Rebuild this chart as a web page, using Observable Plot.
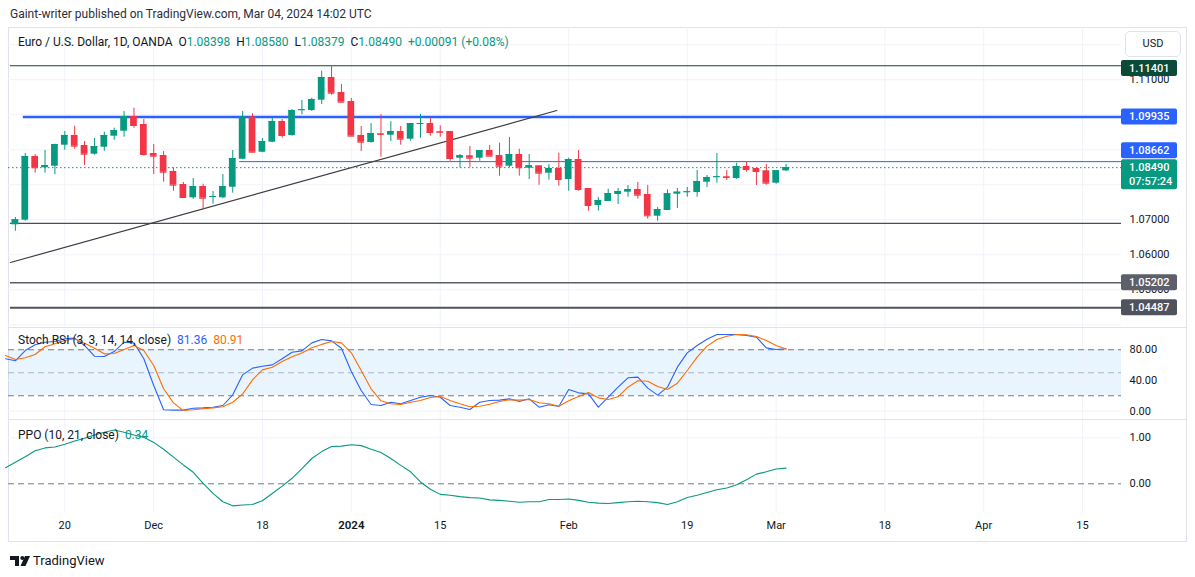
<!DOCTYPE html>
<html><head><meta charset="utf-8">
<script src="https://cdn.jsdelivr.net/npm/d3@7"></script>
<script src="https://cdn.jsdelivr.net/npm/@observablehq/plot@0.6"></script>
<style>
body{margin:0;background:#fff;font-family:Roboto,"Liberation Sans",sans-serif;color:#131722;}
#root{position:relative;width:1195px;height:577px;overflow:hidden;background:#fff;}
.abs{position:absolute;white-space:nowrap;}
#frame{left:8px;top:27px;width:1179px;height:515px;box-sizing:border-box;border:1px solid #e0e3eb;}
.sep{left:8px;width:1178px;height:1px;background:#e0e3eb;}
.hdr{font-size:12px;line-height:16px;height:16px;}
.g{color:#089981;}
</style></head><body><div id="root"></div>
<script>
// ---------- DATA ----------
// candles, index 0 = 13 Nov 2023 ... 78 = 04 Mar 2024 (trading days)
const open  = [1.06857,1.06989,1.08809,1.08486,1.08531,1.09131,1.09409,1.09123,1.08874,1.09074,
               1.09389,1.09531,1.09951,1.09723,1.08894,1.08837,1.08380,1.08009,1.07629,1.07951,
               1.07646,1.07629,1.07931,1.08731,1.09931,1.08931,1.09217,1.09809,1.09409,1.10123,
               1.10123,1.10417,1.11066,1.10637,1.10380,1.09409,1.09209,1.09460,1.09417,1.09523,
               1.09303,1.09730,1.09751,1.09520,1.09523,1.08760,1.08829,1.08760,1.08980,1.08837,
               1.08531,1.08866,1.08474,1.08543,1.08331,1.08466,1.08151,1.08723,1.07894,1.07409,
               1.07523,1.07723,1.07789,1.07866,1.07723,1.07103,1.07266,1.07731,1.07780,1.07780,
               1.08074,1.08210,1.08230,1.08180,1.08523,1.08466,1.08400,1.08046,1.08398];
const high  = [1.07066,1.08894,1.08866,1.08980,1.09160,1.09523,1.09674,1.09237,1.09323,1.09503,
               1.09617,1.10094,1.10189,1.09866,1.09151,1.08950,1.08486,1.08066,1.08180,1.08017,
               1.07809,1.08294,1.08980,1.10094,1.10029,1.09323,1.09903,1.09866,1.10151,1.10409,
               1.10474,1.11246,1.11401,1.10866,1.10466,1.09666,1.09751,1.10000,1.09800,1.09666,
               1.09751,1.10009,1.09903,1.09686,1.09523,1.08866,1.09094,1.08980,1.09123,1.09189,
               1.09351,1.09017,1.08866,1.08543,1.08580,1.08903,1.08760,1.08980,1.07894,1.07637,
               1.07874,1.07894,1.07980,1.08066,1.07980,1.07351,1.07857,1.07894,1.07923,1.08409,
               1.08266,1.08894,1.08409,1.08617,1.08646,1.08480,1.08580,1.08400,1.08580];
const low   = [1.06674,1.06960,1.08331,1.08331,1.08286,1.08989,1.09017,1.08551,1.08846,1.08960,
               1.09274,1.09360,1.09617,1.08817,1.08294,1.08074,1.07817,1.07617,1.07580,1.07286,
               1.07446,1.07600,1.07760,1.08720,1.08903,1.08914,1.09200,1.09331,1.09389,1.10000,
               1.10094,1.10294,1.10560,1.10360,1.09389,1.08950,1.09190,1.08789,1.09237,1.09131,
               1.09246,1.09331,1.09389,1.09360,1.08674,1.08486,1.08486,1.08674,1.08817,1.08246,
               1.08486,1.08246,1.08151,1.07989,1.08131,1.07960,1.07817,1.07817,1.07246,1.07246,
               1.07523,1.07437,1.07646,1.07589,1.07017,1.06960,1.07266,1.07323,1.07646,1.07646,
               1.07923,1.08046,1.08123,1.08151,1.08360,1.07980,1.07989,1.08017,1.08379];
const close = [1.07000,1.08809,1.08486,1.08551,1.09151,1.09409,1.09103,1.08874,1.09094,1.09409,
               1.09551,1.09951,1.09694,1.08866,1.08817,1.08360,1.07989,1.07637,1.07951,1.07617,
               1.07666,1.07951,1.08751,1.09931,1.08931,1.09237,1.09809,1.09409,1.10123,1.10143,
               1.10437,1.11066,1.10617,1.10360,1.09389,1.09217,1.09466,1.09440,1.09523,1.09303,
               1.09751,1.09750,1.09494,1.09500,1.08751,1.08829,1.08760,1.08980,1.08817,1.08531,
               1.08866,1.08486,1.08543,1.08331,1.08466,1.08151,1.08723,1.07866,1.07409,1.07551,
               1.07751,1.07809,1.07866,1.07703,1.07114,1.07294,1.07743,1.07789,1.07800,1.08094,
               1.08209,1.08230,1.08210,1.08523,1.08437,1.08380,1.08046,1.08400,1.08490];
const lastChange = "+0.00091";
const lastChangePct = "+0.08%";

// indicators, index -1 ... 78
const stochK = [68.2,65.6,79.0,86.5,89.9,90.8,94.3,95.2,85.6,71.6,71.2,77.7,89.9,89.0,68.2,33.4,1.7,1.3,1.3,3.8,
                4.2,5.1,7.3,21.2,47.3,56.0,58.6,60.3,68.2,76.8,78.6,89.0,93.4,91.6,82.0,51.6,26.9,8.6,7.3,11.6,
                9.5,13.8,18.1,20.3,18.1,7.3,5.1,2.1,11.6,13.8,14.3,16.0,12.5,16.0,5.1,8.2,6.0,28.2,23.8,22.5,
                5.1,18.1,31.2,43.4,44.3,29.9,20.8,31.2,57.3,76.0,85.6,93.8,100,100,99.9,98.6,96.4,82.5,80.3,81.36];
const stochD = [72.5,67.3,69.5,73.8,83.9,87.8,92.1,94.3,88.6,82.0,74.7,75.1,80.3,85.6,79.0,59.5,29.1,10.8,0.7,1.7,
                3.0,4.2,5.6,11.6,22.3,40.8,53.8,57.2,64.8,70.9,75.9,82.5,87.0,90.8,89.0,76.0,52.9,29.1,13.4,9.5,
                8.6,11.6,13.8,17.7,19.0,13.8,9.5,5.6,6.4,9.0,12.5,14.7,14.3,15.1,10.8,9.5,6.4,13.4,19.0,24.3,
                17.3,15.1,18.6,31.2,39.5,39.0,32.1,28.2,36.4,53.0,70.3,84.7,93.4,97.7,99.9,99.5,97.3,92.1,85.6,80.91];
const ppo    = [0.35,0.47,0.59,0.72,0.78,0.80,0.86,0.93,0.99,1.06,1.12,1.17,1.12,1.06,1.01,0.90,0.75,0.58,0.41,0.25,
                0.01,-0.21,-0.39,-0.48,-0.46,-0.45,-0.37,-0.21,-0.05,0.12,0.33,0.55,0.70,0.81,0.82,0.85,0.83,0.75,0.68,0.55,
                0.40,0.26,0.04,-0.12,-0.23,-0.25,-0.28,-0.30,-0.31,-0.35,-0.36,-0.38,-0.40,-0.39,-0.39,-0.34,-0.34,-0.33,-0.36,-0.40,
                -0.42,-0.43,-0.41,-0.39,-0.38,-0.39,-0.41,-0.45,-0.39,-0.30,-0.25,-0.19,-0.13,-0.09,-0.02,0.09,0.21,0.26,0.32,0.34];

// x-axis ticks (bar index) and labels
const xTickIdx    = [5, 14, 25, 34, 43, 56, 68, 77, 88, 98, 108];
const xTickLabels = ["20","Dec","18","2024","15","Feb","19","Mar","18","Apr","15"];
const yearLabels  = ["2024"];

// price scale labels / grid
const priceGrid  = [1.04,1.05,1.06,1.07,1.08,1.09,1.10,1.11,1.12];
const priceTicks = [1.05,1.06,1.07,1.11];
// horizontal levels drawn on chart
const levelPrice = [1.11401, 1.09935, 1.08662, 1.06900, 1.05202, 1.04487];
const levelFrom  = [-0.5, 0.8, 22.7, -0.5, -0.5, -0.5];
// trend line anchors
const trendIdx   = [-0.5, 54.8];
const trendPrice = [1.0578, 1.10123];
// price tags on the axis
const tagPrice   = [1.11401, 1.09935, 1.08662, 1.08490, 1.05202, 1.04487];
const countdown  = "07:57:24";
// stoch / ppo labels
const stochTicks = [0, 40, 80];
const stochLevels = [20, 50, 80];
const ppoTicks = [0, 1];

// ---------- STYLES ----------
const FONT = 'Roboto, "Liberation Sans", sans-serif';
const G = "#089981", R = "#f23645", BLUE = "#2962ff", ORANGE = "#ff6d00";
const GRID = "#f0f3fa", TXT = "#131722";
const levelStyle = [
  {stroke:"#0b4a36", w:1.2}, {stroke:BLUE, w:2.4}, {stroke:BLUE, w:1},
  {stroke:"#4a4d57", w:1.3}, {stroke:"#5d606b", w:1.3}, {stroke:"#50535e", w:2}
];
const tagStyle = [
  {bg:"#0b4a36", dy:2.7}, {bg:BLUE, dy:0}, {bg:BLUE, dy:-10.8},
  {bg:G, dy:0}, {bg:"#5d606b", dy:0}, {bg:"#50535e", dy:0}
];
const W = 1178, MR = 65;
const X_DOMAIN = [-0.698, 111.95];
const style = {fontFamily: FONT, fontSize: "11px", color: TXT, background: "transparent", overflow: "visible"};

// ---------- BUILD ----------
const candles = open.map((o, i) => ({i, o, h: high[i], l: low[i], c: close[i]}));
const up = candles.filter(d => d.c >= d.o), dn = candles.filter(d => d.c < d.o);
const ind = stochK.map((k, j) => ({i: j - 1, k, d: stochD[j], p: ppo[j]}));
const trend = trendIdx.map((i, j) => ({i, p: trendPrice[j]}));
const BW = 0.34;

function candleMarks(data, color) {
  return [
    Plot.ruleX(data, {x: "i", y1: "l", y2: "h", stroke: color, strokeWidth: 1}),
    Plot.rect(data, {x1: d => d.i - BW, x2: d => d.i + BW, y1: "o", y2: "c", fill: color}),
    Plot.ruleY(data, {y: "c", x1: d => d.i - BW, x2: d => d.i + BW, stroke: color, strokeWidth: 1})
  ];
}

const root = document.getElementById("root");
function place(el, left, top) {
  const wrap = document.createElement("div");
  wrap.className = "abs"; wrap.style.left = left + "px"; wrap.style.top = top + "px";
  wrap.appendChild(el); root.appendChild(wrap); return wrap;
}
function div(cls, left, top, html) {
  const d = document.createElement("div");
  d.className = "abs " + cls; d.style.left = left + "px"; d.style.top = top + "px";
  d.innerHTML = html; root.appendChild(d); return d;
}

// frame
div("", 8, 27, "").id = "frame";

// price pane
const pricePlot = Plot.plot({
  width: W, height: 300, margin: 0, marginRight: MR,
  x: {domain: X_DOMAIN, axis: null},
  y: {domain: [1.03923, 1.12494], axis: null},
  style,
  marks: [
    Plot.ruleX(xTickIdx, {stroke: GRID}),
    Plot.ruleY(priceGrid, {stroke: GRID}),
    Plot.text(priceTicks, {y: d => d, text: d => d.toFixed(5), frameAnchor: "right", dx: 8, textAnchor: "start", fill: TXT, fontSize: 11}),
    ...levelPrice.map((p, j) => Plot.ruleY([p], {x1: levelFrom[j], x2: X_DOMAIN[1], stroke: levelStyle[j].stroke, strokeWidth: levelStyle[j].w})),
    Plot.line(trend, {x: "i", y: "p", stroke: "#3d3d42", strokeWidth: 1.2}),
    Plot.ruleY([close[close.length - 1]], {stroke: G, strokeDasharray: "1.5,2.5"}),
    ...candleMarks(up, G),
    ...candleMarks(dn, R)
  ]
});
place(pricePlot, 8, 27);

// price tags through the y scale
{
  const ys = pricePlot.scale("y");
  const g = d3.select(pricePlot).append("g").attr("font-family", FONT).attr("font-size", 11)
    .attr("text-anchor", "start");
  const x0 = W - MR;
  tagPrice.forEach((p, j) => {
    const y = ys.apply(p) + tagStyle[j].dy;
    const two = j === 3;
    g.append("rect").attr("x", x0).attr("y", y - 8).attr("width", 56).attr("height", two ? 30 : 16)
      .attr("rx", 2).attr("fill", tagStyle[j].bg);
    g.append("text").attr("x", x0 + 8).attr("y", y).attr("dy", "0.35em").attr("fill", "#fff")
      .attr("text-anchor", "start").attr("font-weight", 500).text(p.toFixed(5));
    if (two) g.append("text").attr("x", x0 + 8).attr("y", y + 14).attr("dy", "0.35em").attr("fill", "#fff")
      .attr("text-anchor", "start").attr("font-weight", 500).text(countdown);
  });
}

// stoch rsi pane
const stochPlot = Plot.plot({
  width: W, height: 92, margin: 0, marginRight: MR,
  x: {domain: X_DOMAIN, axis: null},
  y: {domain: [-10.96, 109.04], axis: null},
  style,
  marks: [
    Plot.rect([0], {x1: X_DOMAIN[0], x2: X_DOMAIN[1], y1: stochLevels[0], y2: stochLevels[2], fill: "rgba(33,150,243,0.1)"}),
    Plot.ruleX(xTickIdx, {stroke: GRID}),
    Plot.ruleY(stochTicks, {stroke: GRID}),
    Plot.ruleY([stochLevels[0], stochLevels[2]], {stroke: "#787b86", strokeDasharray: "6,4"}),
    Plot.ruleY([stochLevels[1]], {stroke: "#b2b5be", strokeDasharray: "6,4"}),
    Plot.text(stochTicks, {y: d => d, text: d => d.toFixed(2), frameAnchor: "right", dx: 8, textAnchor: "start", fill: TXT, fontSize: 11}),
    Plot.line(ind, {x: "i", y: "k", stroke: BLUE, strokeWidth: 1.1}),
    Plot.line(ind, {x: "i", y: "d", stroke: ORANGE, strokeWidth: 1.1})
  ]
});
place(stochPlot, 8, 327);

// ppo pane + x axis
const ppoPlot = Plot.plot({
  width: W, height: 122, margin: 0, marginRight: MR, marginBottom: 28,
  x: {domain: X_DOMAIN, axis: null},
  y: {domain: [-0.646, 1.398], axis: null},
  style,
  marks: [
    Plot.ruleX(xTickIdx, {stroke: GRID}),
    Plot.ruleY([ppoTicks[1]], {stroke: GRID}),
    Plot.ruleY([ppoTicks[0]], {stroke: "#787b86", strokeDasharray: "6,4"}),
    Plot.text(ppoTicks, {y: d => d, text: d => d.toFixed(2), frameAnchor: "right", dx: 8, textAnchor: "start", fill: TXT, fontSize: 11}),
    Plot.line(ind, {x: "i", y: "p", stroke: G, strokeWidth: 1.1}),
    Plot.text(xTickIdx.filter((d, j) => !yearLabels.includes(xTickLabels[j])),
      {x: d => d, text: d => xTickLabels[xTickIdx.indexOf(d)], frameAnchor: "bottom", dy: 15, fill: TXT, fontSize: 11}),
    Plot.text(xTickIdx.filter((d, j) => yearLabels.includes(xTickLabels[j])),
      {x: d => d, text: d => xTickLabels[xTickIdx.indexOf(d)], frameAnchor: "bottom", dy: 15, fill: TXT, fontSize: 11.5, fontWeight: 600})
  ]
});
place(ppoPlot, 8, 419);

// pane separators
div("sep", 8, 327, "");
div("sep", 8, 419, "");

// texts
div("hdr", 10, 6, "Gaint-writer published on TradingView.com, Mar 04, 2024 14:02 UTC").style.color = "#2a2e39";
const last = close.length - 1;
div("hdr", 18, 34,
  `Euro / U.S. Dollar, 1D, OANDA&nbsp;&nbsp;O<span class="g">${open[last].toFixed(5)}</span>&nbsp;&nbsp;H<span class="g">${high[last].toFixed(5)}</span>&nbsp;&nbsp;L<span class="g">${low[last].toFixed(5)}</span>&nbsp;&nbsp;C<span class="g">${close[last].toFixed(5)}</span>&nbsp;&nbsp;<span class="g">${lastChange} (${lastChangePct})</span>`);
div("hdr", 18, 331.5,
  `Stoch RSI (3, 3, 14, 14, close)&nbsp;&nbsp;<span style="color:${BLUE}">${stochK[stochK.length - 1].toFixed(2)}</span>&nbsp;&nbsp;<span style="color:${ORANGE}">${stochD[stochD.length - 1].toFixed(2)}</span>`);
div("hdr", 18, 426.5, `PPO (10, 21, close)&nbsp;&nbsp;<span class="g">${ppo[ppo.length - 1].toFixed(2)}</span>`);

// USD box
const usd = div("", 1125, 31, "USD");
Object.assign(usd.style, {width: "56px", height: "26px", boxSizing: "border-box", border: "1px solid #e0e3eb",
  borderRadius: "5px", background: "#fff", fontSize: "11px", lineHeight: "24px", textAlign: "center", color: TXT});

// TradingView logo
div("", 10, 550,
  `<svg width="22" height="16" viewBox="0 0 22 16" style="vertical-align:middle"><path d="M0 3h9v10h-4v-6h-5z" fill="#131722"/><circle cx="12.3" cy="5" r="2" fill="#131722"/><path d="M15 3h5l-4.5 10h-5z" fill="#131722"/></svg><span style="font-size:13px;vertical-align:middle;margin-left:1px;color:#131722">TradingView</span>`);
</script></body></html>
